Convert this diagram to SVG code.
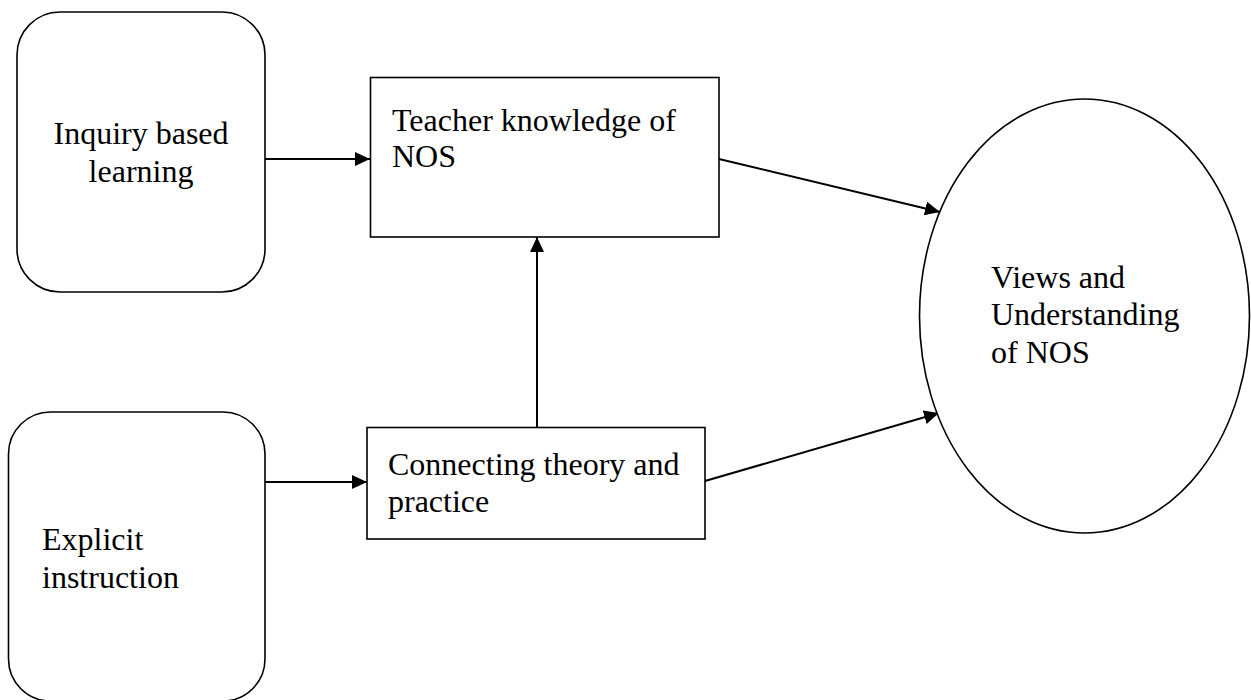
<svg xmlns="http://www.w3.org/2000/svg" width="1251" height="700" viewBox="0 0 1251 700">
  <style>
    .shape { fill: #ffffff; stroke: #000000; stroke-width: 1.6; }
    .conn { fill: none; stroke: #000000; stroke-width: 2; marker-end: url(#arrow); }
    .lbl { font-family: "Liberation Serif", "Times New Roman", serif; font-size: 32px; fill: #000000; }
  </style>
  <defs>
    <marker id="arrow" markerUnits="userSpaceOnUse" markerWidth="17" markerHeight="16" refX="15" refY="7" orient="auto">
      <path d="M0,0 L15,7 L0,14 z" fill="#000000"/>
    </marker>
  </defs>
  <rect x="0" y="0" width="1251" height="700" fill="#ffffff"/>

  <g id="connectors">
    <line class="conn" x1="265" y1="159" x2="370" y2="159"/>
    <line class="conn" x1="265" y1="482" x2="367" y2="482"/>
    <line class="conn" x1="537" y1="427" x2="537" y2="237"/>
    <line class="conn" x1="719" y1="159" x2="940" y2="212"/>
    <line class="conn" x1="705" y1="481" x2="939" y2="413"/>
  </g>

  <g id="inquiry">
    <rect class="shape" x="17" y="12" width="248" height="280" rx="43" ry="43"/>
    <text class="lbl" x="141" y="144" text-anchor="middle">Inquiry based</text>
    <text class="lbl" x="141" y="182" text-anchor="middle">learning</text>
  </g>

  <g id="explicit">
    <rect class="shape" x="8.5" y="412" width="256.5" height="289" rx="42" ry="42"/>
    <text class="lbl" x="42" y="550">Explicit</text>
    <text class="lbl" x="42" y="588">instruction</text>
  </g>

  <g id="teacher">
    <rect class="shape" x="370.5" y="77.5" width="348.5" height="159.5"/>
    <text class="lbl" x="392" y="131">Teacher knowledge of</text>
    <text class="lbl" x="392" y="167">NOS</text>
  </g>

  <g id="connecting">
    <rect class="shape" x="367" y="427.5" width="338" height="111.5"/>
    <text class="lbl" x="388" y="475">Connecting theory and</text>
    <text class="lbl" x="388" y="512">practice</text>
  </g>

  <g id="views">
    <ellipse class="shape" cx="1084.5" cy="316" rx="165" ry="217"/>
    <text class="lbl" x="991" y="288">Views and</text>
    <text class="lbl" x="991" y="325">Understanding</text>
    <text class="lbl" x="991" y="363">of NOS</text>
  </g>
</svg>
